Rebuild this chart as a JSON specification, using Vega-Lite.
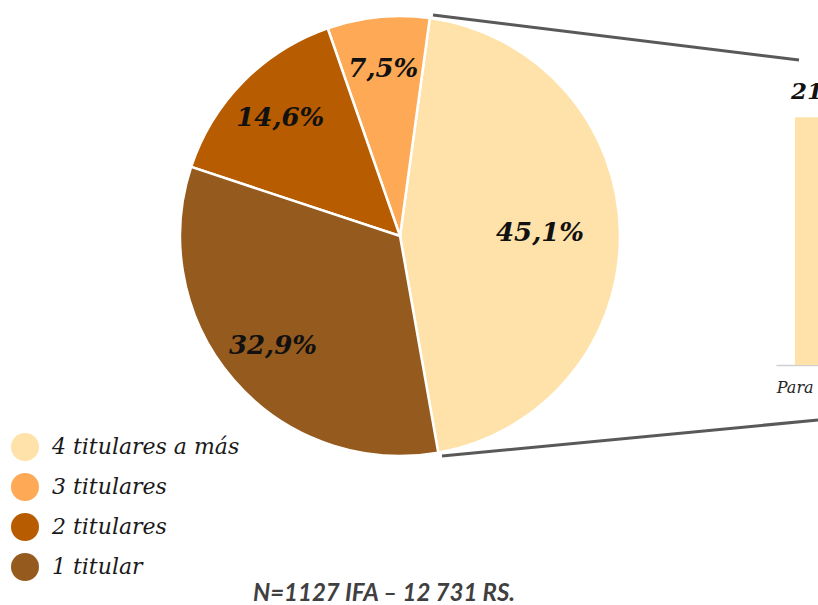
{
  "$schema": "https://vega.github.io/schema/vega-lite/v6.json",
  "autosize": "none",
  "padding": {"left": 180, "top": 16, "right": 638, "bottom": 589},
  "background": "white",
  "config": {
    "view": {"stroke": null},
    "font": "DejaVu Serif",
    "locale": {"number": {"decimal": ",", "thousands": " ", "grouping": [3], "currency": ["", " €"]}}
  },
  "bounds": "flush",
  "spacing": 156,
  "hconcat": [
    {
      "width": 440,
      "height": 440,
      "data": {"values": [
        {"cat": "4 titulares a más", "val": 0.451},
        {"cat": "3 titulares", "val": 0.075},
        {"cat": "2 titulares", "val": 0.146},
        {"cat": "1 titular", "val": 0.329}
      ]},
      "title": {
        "text": "N=1127 IFA – 12 731 RS.",
        "orient": "bottom",
        "anchor": "middle",
        "frame": "group",
        "font": "Lato",
        "fontSize": 24,
        "fontStyle": "italic",
        "fontWeight": "bold",
        "color": "#404040",
        "offset": 121,
        "dx": -16
      },
      "layer": [
        {
          "mark": {"type": "arc", "outerRadius": 220, "stroke": "white", "strokeWidth": 2.5},
          "encoding": {
            "theta": {"field": "val", "type": "quantitative", "stack": true, "scale": {"range": [0.136, 6.419]}},
            "order": {"field": "val", "type": "quantitative", "sort": "descending"},
            "color": {
              "field": "cat",
              "type": "nominal",
              "scale": {
                "domain": ["4 titulares a más", "3 titulares", "2 titulares", "1 titular"],
                "range": ["#FFE2A9", "#FDA955", "#B75C00", "#955A1E"]
              },
              "legend": {
                "orient": "none",
                "legendX": -169,
                "legendY": 417,
                "title": null,
                "symbolType": "circle",
                "symbolSize": 784,
                "symbolOpacity": 1,
                "symbolStrokeWidth": 0,
                "labelFont": "DejaVu Serif",
                "labelFontStyle": "italic",
                "labelFontSize": 22,
                "labelColor": "#1a1a1a",
                "labelOffset": 13,
                "rowPadding": 12,
                "labelLimit": 400
              }
            }
          }
        },
        {
          "mark": {"type": "text", "radius": 140, "font": "DejaVu Serif", "fontSize": 26, "fontWeight": "bold", "fontStyle": "italic", "color": "#111111"},
          "encoding": {
            "theta": {"field": "val", "type": "quantitative", "stack": true},
            "order": {"field": "val", "type": "quantitative", "sort": "descending"},
            "text": {"field": "val", "type": "quantitative", "format": ".1%"},
            "opacity": {"condition": {"test": "datum.cat === '4 titulares a más'", "value": 1}, "value": 0}
          }
        },
        {
          "mark": {"type": "text", "radius": 168, "font": "DejaVu Serif", "fontSize": 26, "fontWeight": "bold", "fontStyle": "italic", "color": "#111111"},
          "encoding": {
            "theta": {"field": "val", "type": "quantitative", "stack": true},
            "order": {"field": "val", "type": "quantitative", "sort": "descending"},
            "text": {"field": "val", "type": "quantitative", "format": ".1%"},
            "opacity": {"condition": {"test": "datum.cat === '4 titulares a más'", "value": 0}, "value": 1}
          }
        },
        {
          "data": {"values": [{}]},
          "mark": {"type": "rule", "color": "#595959", "strokeWidth": 3},
          "encoding": {
            "x": {"datum": 33, "type": "quantitative", "scale": {"domain": [-220, 220], "nice": false, "zero": false}, "axis": null},
            "y": {"datum": 221, "type": "quantitative", "scale": {"domain": [-220, 220], "nice": false, "zero": false}, "axis": null},
            "x2": {"datum": 399},
            "y2": {"datum": 176}
          }
        },
        {
          "data": {"values": [{}]},
          "mark": {"type": "rule", "color": "#595959", "strokeWidth": 3},
          "encoding": {
            "x": {"datum": 42, "type": "quantitative"},
            "y": {"datum": -220, "type": "quantitative"},
            "x2": {"datum": 600},
            "y2": {"datum": -166.6}
          }
        }
      ]
    },
    {
      "width": 108,
      "height": 349,
      "data": {"values": [{"dest": "Para la venta", "pct": 0.213}]},
      "layer": [
        {
          "mark": {"type": "bar", "color": "#FFE2A9"},
          "encoding": {
            "x": {
              "field": "dest",
              "type": "nominal",
              "scale": {"paddingInner": 0, "paddingOuter": 0.271},
              "axis": {
                "title": null,
                "labelAngle": 0,
                "labelFont": "DejaVu Serif",
                "labelFontStyle": "italic",
                "labelFontSize": 16,
                "labelColor": "#262626",
                "ticks": false,
                "domainColor": "#d0d0d0",
                "domainWidth": 1.5,
                "labelPadding": 14,
                "labelLimit": 400
              }
            },
            "y": {"field": "pct", "type": "quantitative", "scale": {"domain": [0, 0.284]}, "axis": null}
          }
        },
        {
          "mark": {"type": "text", "baseline": "bottom", "dy": -13, "font": "DejaVu Serif", "fontSize": 23, "fontWeight": "bold", "fontStyle": "italic", "color": "#111111"},
          "encoding": {
            "x": {"field": "dest", "type": "nominal"},
            "y": {"field": "pct", "type": "quantitative"},
            "text": {"field": "pct", "type": "quantitative", "format": ".1%"}
          }
        }
      ]
    }
  ]
}
